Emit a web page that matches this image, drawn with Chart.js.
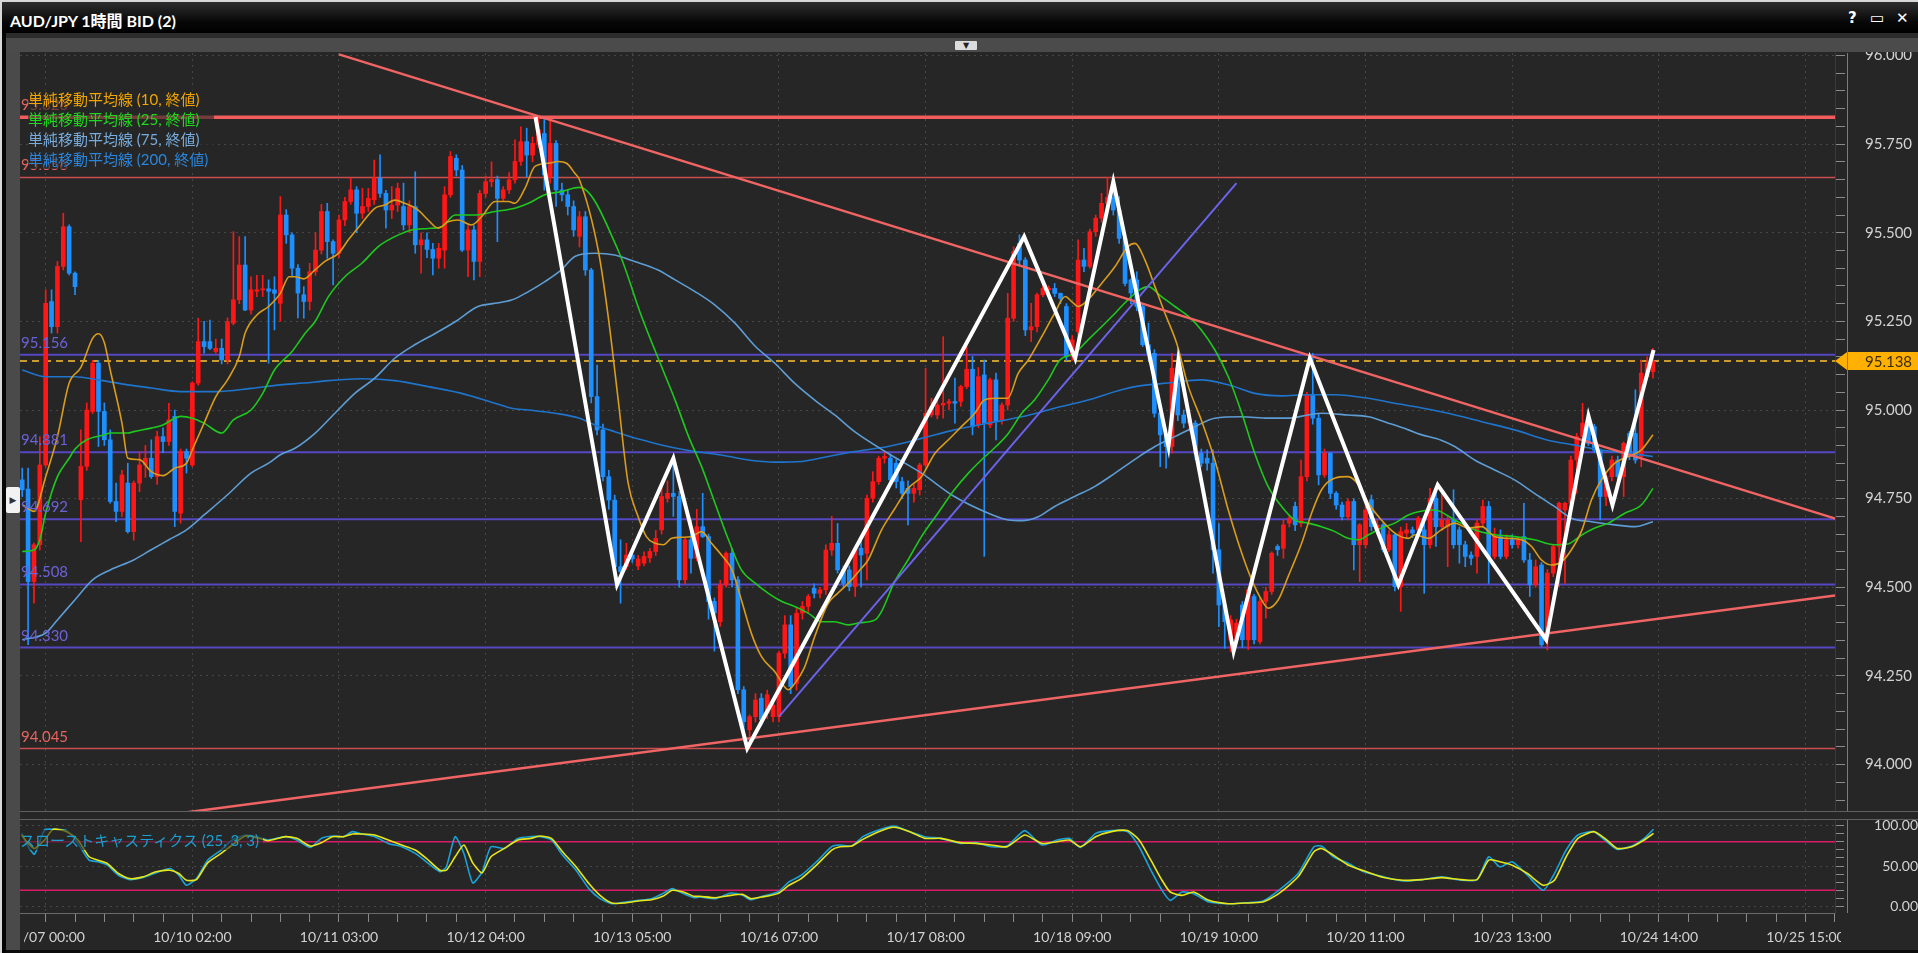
<!DOCTYPE html>
<html lang="ja">
<head>
<meta charset="utf-8">
<title>AUD/JPY 1時間 BID (2)</title>
<script src="https://cdn.jsdelivr.net/npm/chart.js@4.4.1/dist/chart.umd.min.js"></script>
<style>
  html, body { margin: 0; padding: 0; }
  body { width: 1918px; height: 953px; background: #0c0c0c; overflow: hidden; position: relative;
         font-family: Lato, "Noto Sans CJK JP", sans-serif; }
  .abs { position: absolute; z-index: 2; }
  #frame { left: 0; top: 0; width: 1916px; height: 951px; border-left: 2px solid #d8d8d8; border-top: 2px solid #d8d8d8; z-index: 0; }
  #titlebar { left: 2px; top: 2px; width: 1916px; height: 31px; background: linear-gradient(#2e2e2e, #070707 65%, #000); }
  #title { left: 8px; top: 6px; color: #fff; font: bold 16px Lato, "Noto Sans CJK JP", sans-serif; }
  .icon { top: 7px; color: #fff; font: bold 15px "DejaVu Sans", sans-serif; }
  #band { left: 6px; top: 33px; width: 1912px; height: 5px; background: #2c2c2c; }
  #strip { left: 6px; top: 38px; width: 1912px; height: 14px; background: #4b4b4b; }
  #dropbtn { left: 955px; top: 41px; width: 22px; height: 9px; background: #dcdcdc; border-radius: 1px;
             color: #222; font: 8px "DejaVu Sans"; text-align: center; line-height: 9px; }
  #panel { left: 20px; top: 52px; width: 1898px; height: 898px; background: #262626; z-index: 0; }
  #leftedge { left: 2px; top: 33px; width: 4px; height: 920px; background: #050505; }
  #leftbar { left: 6px; top: 52px; width: 14px; height: 898px; background: #4a4a4a; }
  #leftbtn { left: 6px; top: 487px; width: 14px; height: 26px; background: #f2f2f2; border-radius: 2px;
             color: #333; font: 9px "DejaVu Sans"; line-height: 26px; text-align: center; }
  canvas { position: absolute; left: 0; z-index: 1; }
  #mainChart { top: 40px; }
  #stochChart { top: 815px; }
  .sep { left: 20px; width: 1898px; height: 1px; background: #5f5f5f; }
  .vaxis { left: 1847px; width: 1px; background: #7c7c7c; }
  #labelcover { left: 1841px; top: 915px; width: 77px; height: 35px; background: #262626; }
  #leftcover { left: 20px; top: 924px; width: 4px; height: 26px; background: #262626; }
  #legend { left: 28px; top: 89px; padding-right: 6px; background: rgba(38,38,38,0.62);
            font: 15px Lato, "Noto Sans CJK JP", sans-serif; line-height: 20px; white-space: nowrap; }
  #stochLegend { left: 20px; top: 830px; padding-right: 4px; background: rgba(38,38,38,0.6); color: #1d9fd0;
                 font: 15px Lato, "Noto Sans CJK JP", sans-serif; line-height: 20px; }
</style>
</head>
<body>
<div id="frame" class="abs"></div>
<div id="panel" class="abs"></div>
<canvas id="mainChart" width="1918" height="785"></canvas>
<canvas id="stochChart" width="1918" height="138"></canvas>

<div id="titlebar" class="abs">
  <div id="title" class="abs">AUD/JPY 1時間 BID (2)</div>
  <div class="abs icon" style="left:1846px">?</div>
  <div class="abs icon" style="left:1868px">▭</div>
  <div class="abs icon" style="left:1894px">✕</div>
</div>
<div id="band" class="abs"></div>
<div id="strip" class="abs"></div>
<div id="dropbtn" class="abs">▼</div>
<div id="leftedge" class="abs"></div>
<div id="leftbar" class="abs"></div>
<div id="leftbtn" class="abs">▶</div>
<div class="abs sep" style="top:811px"></div>
<div class="abs sep" style="top:819px"></div>
<div class="abs vaxis" style="top:53px;height:758px"></div>
<div class="abs vaxis" style="top:820px;height:93px"></div>
<div id="labelcover" class="abs"></div>
<div id="leftcover" class="abs"></div>
<div id="legend" class="abs">
  <div style="color:#f0a500">単純移動平均線 (10, 終値)</div>
  <div style="color:#1fd81f">単純移動平均線 (25, 終値)</div>
  <div style="color:#78acdc">単純移動平均線 (75, 終値)</div>
  <div style="color:#2a86dc">単純移動平均線 (200, 終値)</div>
</div>
<div id="stochLegend" class="abs">スローストキャスティクス (25, 3, 3)</div>

<script>
// hourly candles, bar index 0 = 10/07 00:00 (weekend hours are skipped)
const firstBar = -4;
const opens = [
  94.803, 94.777, 94.516, 94.620, 94.845, 95.306, 95.235, 95.405, 95.517, 95.386,
  94.747, 94.841, 94.996, 95.132, 94.996, 94.916, 94.742, 94.714, 94.794, 94.657,
  94.794, 94.845, 94.864, 94.812, 94.925, 94.911, 94.982, 94.709, 94.883, 94.845,
  95.076, 95.193, 95.193, 95.165, 95.174, 95.141, 95.245, 95.311, 95.409, 95.282,
  95.335, 95.339, 95.342, 95.339, 95.301, 95.550, 95.494, 95.400, 95.325, 95.306,
  95.390, 95.451, 95.560, 95.475, 95.442, 95.536, 95.588, 95.621, 95.555, 95.574,
  95.593, 95.654, 95.611, 95.564, 95.578, 95.574, 95.522, 95.574, 95.466, 95.480,
  95.453, 95.428, 95.451, 95.607, 95.710, 95.677, 95.451, 95.508, 95.419, 95.611,
  95.644, 95.650, 95.597, 95.621, 95.649, 95.701, 95.757, 95.719, 95.752, 95.780,
  95.658, 95.752, 95.621, 95.607, 95.574, 95.490, 95.545, 95.395, 95.038, 94.944,
  94.812, 94.746, 94.558, 94.558, 94.591, 94.560, 94.568, 94.583, 94.601, 94.662,
  94.751, 94.765, 94.756, 94.521, 94.634, 94.582, 94.671, 94.643, 94.460, 94.403,
  94.507, 94.596, 94.521, 94.211, 94.098, 94.135, 94.187, 94.145, 94.135, 94.135,
  94.314, 94.394, 94.229, 94.427, 94.446, 94.497, 94.483, 94.493, 94.605, 94.624,
  94.549, 94.549, 94.502, 94.610, 94.596, 94.751, 94.798, 94.864, 94.864, 94.850,
  94.798, 94.779, 94.765, 94.775, 94.845, 94.986, 94.986, 95.014, 95.019, 95.024,
  95.024, 95.066, 95.115, 94.958, 95.099, 94.958, 95.085, 94.972, 95.014, 95.259,
  95.470, 95.423, 95.226, 95.235, 95.325, 95.339, 95.343, 95.329, 95.292, 95.151,
  95.221, 95.423, 95.405, 95.503, 95.541, 95.583, 95.600, 95.564, 95.484, 95.367,
  95.367, 95.292, 95.184, 95.160, 94.991, 94.930, 94.897, 95.118, 94.986, 94.963,
  94.963, 94.878, 94.864, 94.850, 94.606, 94.450, 94.352, 94.352, 94.450, 94.352,
  94.474, 94.347, 94.460, 94.488, 94.615, 94.610, 94.681, 94.728, 94.681, 94.812,
  95.043, 94.977, 94.817, 94.878, 94.765, 94.732, 94.699, 94.742, 94.620, 94.620,
  94.747, 94.662, 94.676, 94.606, 94.648, 94.502, 94.653, 94.662, 94.662, 94.662,
  94.620, 94.751, 94.671, 94.671, 94.690, 94.662, 94.620, 94.591, 94.587, 94.681,
  94.728, 94.587, 94.643, 94.587, 94.634, 94.620, 94.643, 94.577, 94.507, 94.563,
  94.361, 94.540, 94.615, 94.718, 94.737, 94.859, 94.925, 94.963, 94.953, 94.887,
  94.756, 94.812, 94.859, 94.812, 94.934, 94.934, 94.869, 95.094, 95.108
];
const highs = [
  94.836, 94.836, 94.625, 94.925, 95.339, 95.339, 95.419, 95.555, 95.522, 95.390,
  94.944, 95.020, 95.140, 95.140, 95.020, 94.944, 94.794, 94.830, 94.850, 94.800,
  94.883, 94.900, 94.916, 94.940, 94.950, 95.019, 95.000, 94.890, 94.890, 95.080,
  95.259, 95.250, 95.254, 95.200, 95.200, 95.260, 95.503, 95.489, 95.489, 95.376,
  95.380, 95.380, 95.367, 95.376, 95.602, 95.565, 95.500, 95.410, 95.348, 95.414,
  95.500, 95.580, 95.583, 95.480, 95.550, 95.600, 95.654, 95.630, 95.625, 95.625,
  95.705, 95.720, 95.620, 95.630, 95.640, 95.640, 95.590, 95.672, 95.500, 95.500,
  95.470, 95.470, 95.630, 95.729, 95.720, 95.690, 95.520, 95.520, 95.620, 95.660,
  95.700, 95.660, 95.630, 95.670, 95.762, 95.799, 95.795, 95.770, 95.826, 95.820,
  95.818, 95.760, 95.640, 95.620, 95.590, 95.560, 95.560, 95.400, 95.127, 94.960,
  94.830, 94.760, 94.634, 94.624, 94.600, 94.590, 94.600, 94.610, 94.660, 94.780,
  94.800, 94.870, 94.770, 94.640, 94.690, 94.720, 94.765, 94.650, 94.470, 94.520,
  94.600, 94.610, 94.530, 94.220, 94.140, 94.200, 94.200, 94.210, 94.180, 94.320,
  94.420, 94.420, 94.440, 94.460, 94.480, 94.510, 94.500, 94.620, 94.700, 94.680,
  94.560, 94.560, 94.610, 94.643, 94.760, 94.826, 94.870, 94.880, 94.875, 94.860,
  94.810, 94.800, 94.790, 94.850, 95.118, 95.033, 95.030, 95.207, 95.030, 95.090,
  95.070, 95.179, 95.151, 95.120, 95.141, 95.090, 95.104, 95.020, 95.329, 95.460,
  95.494, 95.430, 95.301, 95.330, 95.350, 95.350, 95.357, 95.330, 95.300, 95.210,
  95.480, 95.456, 95.510, 95.550, 95.611, 95.656, 95.649, 95.602, 95.490, 95.370,
  95.390, 95.300, 95.245, 95.170, 95.000, 94.940, 95.160, 95.151, 95.000, 94.990,
  94.970, 94.890, 94.888, 94.888, 94.680, 94.460, 94.420, 94.410, 94.460, 94.500,
  94.480, 94.470, 94.500, 94.600, 94.620, 94.690, 94.700, 94.740, 94.859, 95.050,
  95.160, 94.990, 94.890, 94.880, 94.770, 94.740, 94.750, 94.750, 94.680, 94.730,
  94.760, 94.690, 94.680, 94.660, 94.650, 94.670, 94.680, 94.670, 94.700, 94.681,
  94.779, 94.784, 94.775, 94.700, 94.775, 94.670, 94.630, 94.600, 94.690, 94.746,
  94.742, 94.667, 94.662, 94.648, 94.648, 94.640, 94.737, 94.596, 94.577, 94.570,
  94.550, 94.620, 94.740, 94.740, 94.870, 94.934, 95.019, 94.980, 94.960, 94.890,
  94.820, 94.870, 94.870, 94.910, 94.940, 95.057, 95.141, 95.150, 95.174
];
const lows = [
  94.756, 94.338, 94.455, 94.605, 94.840, 95.217, 95.217, 95.395, 95.381, 95.325,
  94.629, 94.830, 94.990, 94.897, 94.900, 94.737, 94.685, 94.700, 94.653, 94.633,
  94.770, 94.810, 94.807, 94.790, 94.880, 94.900, 94.671, 94.681, 94.822, 94.840,
  95.070, 95.160, 95.170, 95.160, 95.130, 95.130, 95.240, 95.300, 95.280, 95.270,
  95.320, 95.320, 95.132, 95.226, 95.250, 95.470, 95.376, 95.260, 95.259, 95.282,
  95.380, 95.440, 95.428, 95.353, 95.430, 95.520, 95.580, 95.500, 95.540, 95.560,
  95.580, 95.600, 95.513, 95.540, 95.560, 95.508, 95.500, 95.442, 95.386, 95.430,
  95.381, 95.400, 95.400, 95.600, 95.660, 95.447, 95.376, 95.367, 95.376, 95.600,
  95.630, 95.475, 95.590, 95.610, 95.640, 95.690, 95.658, 95.700, 95.740, 95.620,
  95.640, 95.574, 95.590, 95.550, 95.490, 95.460, 95.380, 95.020, 94.930, 94.800,
  94.720, 94.540, 94.455, 94.550, 94.570, 94.550, 94.560, 94.570, 94.590, 94.650,
  94.740, 94.700, 94.500, 94.510, 94.540, 94.575, 94.640, 94.410, 94.320, 94.390,
  94.500, 94.500, 94.200, 94.080, 94.045, 94.120, 94.110, 94.130, 94.120, 94.120,
  94.300, 94.200, 94.210, 94.410, 94.430, 94.470, 94.470, 94.480, 94.590, 94.540,
  94.500, 94.490, 94.474, 94.502, 94.521, 94.740, 94.790, 94.850, 94.790, 94.780,
  94.750, 94.676, 94.740, 94.760, 94.840, 94.980, 94.975, 94.977, 95.000, 94.963,
  95.010, 95.060, 94.930, 94.950, 94.587, 94.950, 94.916, 94.960, 95.000, 95.250,
  95.410, 95.210, 95.193, 95.220, 95.320, 95.330, 95.320, 95.300, 95.140, 95.140,
  95.200, 95.390, 95.400, 95.490, 95.530, 95.570, 95.550, 95.470, 95.350, 95.300,
  95.280, 95.179, 95.140, 94.980, 94.840, 94.836, 94.878, 94.970, 94.950, 94.940,
  94.860, 94.840, 94.830, 94.540, 94.389, 94.328, 94.319, 94.340, 94.330, 94.324,
  94.340, 94.340, 94.413, 94.480, 94.590, 94.582, 94.670, 94.660, 94.670, 94.800,
  94.960, 94.789, 94.810, 94.750, 94.720, 94.690, 94.690, 94.549, 94.516, 94.610,
  94.660, 94.650, 94.600, 94.600, 94.490, 94.432, 94.640, 94.640, 94.650, 94.483,
  94.610, 94.615, 94.660, 94.558, 94.610, 94.568, 94.558, 94.563, 94.540, 94.670,
  94.511, 94.580, 94.580, 94.580, 94.610, 94.610, 94.570, 94.474, 94.500, 94.333,
  94.323, 94.530, 94.502, 94.511, 94.730, 94.765, 94.920, 94.900, 94.880, 94.690,
  94.730, 94.800, 94.800, 94.756, 94.860, 94.850, 94.840, 95.090, 95.090
];
const closes = [
  94.775, 94.516, 94.620, 94.845, 95.301, 95.235, 95.405, 95.517, 95.386, 95.348,
  94.841, 95.000, 95.132, 94.996, 94.916, 94.742, 94.714, 94.817, 94.657, 94.794,
  94.845, 94.864, 94.812, 94.925, 94.911, 94.972, 94.714, 94.883, 94.864, 95.076,
  95.193, 95.179, 95.174, 95.174, 95.141, 95.249, 95.311, 95.409, 95.282, 95.339,
  95.339, 95.342, 95.335, 95.329, 95.550, 95.494, 95.400, 95.330, 95.306, 95.390,
  95.451, 95.560, 95.475, 95.442, 95.536, 95.588, 95.621, 95.555, 95.574, 95.597,
  95.654, 95.611, 95.564, 95.578, 95.625, 95.522, 95.574, 95.466, 95.480, 95.453,
  95.428, 95.456, 95.607, 95.715, 95.677, 95.451, 95.508, 95.419, 95.611, 95.644,
  95.650, 95.597, 95.621, 95.649, 95.701, 95.757, 95.719, 95.752, 95.790, 95.663,
  95.752, 95.621, 95.607, 95.574, 95.508, 95.545, 95.395, 95.038, 94.944, 94.812,
  94.746, 94.558, 94.544, 94.591, 94.580, 94.580, 94.587, 94.601, 94.638, 94.756,
  94.765, 94.756, 94.521, 94.634, 94.582, 94.671, 94.643, 94.460, 94.427, 94.507,
  94.596, 94.521, 94.211, 94.121, 94.135, 94.182, 94.126, 94.197, 94.168, 94.314,
  94.394, 94.220, 94.427, 94.446, 94.474, 94.483, 94.493, 94.605, 94.624, 94.549,
  94.511, 94.502, 94.606, 94.591, 94.751, 94.798, 94.864, 94.869, 94.803, 94.798,
  94.765, 94.765, 94.779, 94.845, 94.991, 95.010, 95.014, 95.019, 95.024, 95.019,
  95.066, 95.115, 94.953, 95.094, 94.963, 95.085, 94.967, 95.014, 95.259, 95.447,
  95.423, 95.226, 95.235, 95.325, 95.343, 95.343, 95.329, 95.315, 95.151, 95.198,
  95.423, 95.405, 95.503, 95.541, 95.583, 95.600, 95.564, 95.484, 95.357, 95.330,
  95.292, 95.184, 95.160, 94.991, 94.930, 94.897, 95.118, 94.986, 94.963, 94.972,
  94.878, 94.850, 94.850, 94.606, 94.450, 94.403, 94.408, 94.399, 94.352, 94.493,
  94.352, 94.460, 94.488, 94.596, 94.606, 94.676, 94.695, 94.676, 94.812, 95.043,
  94.977, 94.817, 94.878, 94.765, 94.732, 94.699, 94.742, 94.620, 94.676, 94.718,
  94.671, 94.676, 94.606, 94.648, 94.502, 94.657, 94.662, 94.653, 94.695, 94.620,
  94.751, 94.671, 94.690, 94.690, 94.620, 94.620, 94.587, 94.582, 94.681, 94.728,
  94.587, 94.643, 94.587, 94.634, 94.620, 94.634, 94.577, 94.507, 94.558, 94.338,
  94.540, 94.615, 94.737, 94.737, 94.859, 94.925, 94.963, 94.906, 94.887, 94.756,
  94.812, 94.859, 94.812, 94.906, 94.869, 94.859, 95.104, 95.132, 95.138
];

// time axis
const timeTickBars = [0, 25, 50, 75, 100, 125, 150, 175, 200, 225, 250, 275, 300];
const timeLabels = ['10/07 00:00', '10/10 02:00', '10/11 03:00', '10/12 04:00', '10/13 05:00',
  '10/16 07:00', '10/17 08:00', '10/18 09:00', '10/19 10:00', '10/20 11:00', '10/23 13:00',
  '10/24 14:00', '10/25 15:00'];
const priceLabels = ['94.000', '94.250', '94.500', '94.750', '95.000', '95.250', '95.500', '95.750', '96.000'];
const stochLabels = ['0.00', '50.00', '100.00'];

// moving averages [bar, price]
const ma10 = [[-4,94.733],[-2,94.714],[0,94.812],[2,94.925],[4,95.076],[6,95.12],[8,95.202],[9,95.215],[10,95.19],[11,95.113],
  [13,94.963],[14,94.864],[16,94.86],[18,94.826],[20,94.815],[22,94.836],[24,94.85],[25,94.888],[27,94.963],[29,95.038],
  [31,95.085],[33,95.151],[34,95.217],[36,95.268],[38,95.292],[40,95.329],[41.5,95.376],[42.5,95.376],[44,95.37],[45.9,95.395],
  [47.6,95.419],[49.9,95.442],[51.6,95.48],[53.9,95.527],[56.1,95.569],[57.8,95.578],[59.5,95.592],[61.2,95.583],[63.5,95.564],[65.2,95.536],
  [66.9,95.513],[68.6,95.531],[70.3,95.536],[72.6,95.522],[74.3,95.545],[76.6,95.588],[78.9,95.588],[80,95.583],[81.7,95.625],[83.4,95.687],
  [85.7,95.696],[87.4,95.701],[88.8,95.696],[90.2,95.668],[91,95.649],[94.2,95.45],[95.9,95.263],[97.6,95.028],[99.3,94.793],[101,94.699],
  [102.4,94.643],[103.9,94.624],[105.3,94.62],[106.7,94.638],[108.4,94.641],[110.1,94.643],[111.8,94.657],[113.5,94.624],[115.2,94.591],[117,94.549],
  [118.6,94.464],[120.3,94.37],[122,94.305],[124.3,94.262],[126.6,94.211],[127.7,94.229],[129.4,94.276],[131.1,94.361],[133.4,94.455],[135,94.483],
  [136.8,94.511],[138.8,94.549],[140.2,94.577],[142.5,94.662],[144.6,94.718],[147,94.779],[149.3,94.812],[151.6,94.878],[153.9,94.916],[156.1,94.953],
  [158.4,94.991],[160.1,95.029],[162.4,95.033],[164,95.033],[165.8,95.104],[167.5,95.141],[169.8,95.207],[172,95.273],[173.8,95.32],[174.9,95.306],
  [176,95.292],[177.7,95.311],[180,95.357],[182.3,95.405],[184.5,95.461],[185.7,95.47],[187.4,95.423],[189.1,95.348],[190.8,95.273],[192.8,95.188],
  [194.8,95.066],[197,94.972],[199.3,94.859],[201.6,94.718],[203.9,94.596],[205.6,94.521],[207.3,94.464],[208.4,94.441],[210.1,94.464],[211.8,94.53],
  [214.1,94.624],[215.8,94.709],[217.5,94.775],[219.8,94.808],[222,94.812],[223.8,94.789],[225.5,94.737],[227.7,94.69],[230,94.653],[232.3,94.638],
  [233.4,94.648],[235.7,94.638],[237.9,94.662],[240.2,94.681],[242.5,94.667],[244.8,94.671],[247,94.643],[249.3,94.638],[251.6,94.634],[253.3,94.615],
  [255,94.577],[256.7,94.563],[258.4,94.572],[260.1,94.606],[261.9,94.662],[263.5,94.746],[265.2,94.803],[267.5,94.85],[269.8,94.869],[272,94.887],[274,94.93]];
const ma25 = [[-4,94.601],[-2,94.605],[-1,94.634],[0,94.709],[2,94.812],[4,94.864],[5,94.89],[7,94.916],[10,94.93],[11,94.935],
  [14,94.935],[15,94.939],[18,94.949],[20,94.958],[22,94.977],[23,94.982],[25,94.977],[27,94.963],[30,94.935],[32,94.972],
  [35,95.0],[37,95.047],[39,95.113],[42,95.165],[44.2,95.216],[45.9,95.249],[48.2,95.32],[51,95.376],[53.9,95.414],[56.7,95.461],
  [59.5,95.489],[62.4,95.508],[65.2,95.512],[67.5,95.517],[69.8,95.55],[73.2,95.55],[76.6,95.56],[80,95.569],[82.3,95.583],[85.1,95.607],
  [87.9,95.616],[91,95.628],[97.6,95.45],[101.6,95.263],[105,95.122],[107.3,95.028],[109.6,94.925],[111.8,94.841],[114.1,94.737],[116.4,94.634],
  [118.6,94.549],[121,94.511],[123.2,94.483],[125.5,94.46],[127.7,94.446],[130,94.427],[132.3,94.403],[134.5,94.403],[136.8,94.394],[138.8,94.4],
  [141.4,94.408],[142.5,94.432],[144.6,94.512],[147,94.577],[149.3,94.643],[152.1,94.709],[154.9,94.775],[157.3,94.822],[159.5,94.859],[162,94.897],
  [164.1,94.934],[166.4,94.991],[168.6,95.029],[170.9,95.085],[172.9,95.141],[175.4,95.16],[177.7,95.198],[180,95.235],[182.3,95.273],[184.5,95.311],
  [186.5,95.339],[188,95.348],[190.2,95.32],[192.5,95.292],[194.8,95.264],[197,95.226],[199.3,95.17],[201.6,95.094],[203.9,94.991],[206.1,94.878],
  [208.4,94.784],[210.7,94.728],[212.9,94.69],[215.2,94.681],[217.5,94.671],[219.8,94.657],[222,94.638],[223.8,94.634],[225.5,94.648],[227.7,94.667],
  [230,94.681],[232.3,94.704],[234.2,94.714],[236.8,94.718],[240.2,94.69],[243.6,94.662],[247,94.648],[250.4,94.643],[253.8,94.634],[257.2,94.62],
  [259.5,94.622],[261.9,94.648],[264.1,94.667],[266.4,94.681],[269.2,94.709],[272,94.732],[274,94.779]];
const ma75 = [[-4,94.352],[0,94.371],[2,94.408],[5,94.465],[8,94.521],[11,94.549],[15,94.577],[18,94.606],[21,94.634],[24,94.662],
  [27,94.704],[31,94.761],[35,94.822],[38,94.85],[40,94.874],[42.5,94.892],[45.9,94.934],[49.3,94.991],[52.7,95.047],[56.1,95.09],
  [59.5,95.146],[62.9,95.184],[66.4,95.216],[69.8,95.249],[73.7,95.292],[76.6,95.301],[79.4,95.31],[82.3,95.334],[85.1,95.362],[87.9,95.395],
  [90.2,95.433],[93.6,95.442],[97,95.437],[100.4,95.419],[104.4,95.395],[107.3,95.367],[110.7,95.334],[114.1,95.296],[117.5,95.245],[121,95.179],
  [124.3,95.132],[127.7,95.075],[131.1,95.028],[134.5,94.986],[137.9,94.939],[143.6,94.878],[149.3,94.822],[154.9,94.756],[160.7,94.709],[164.1,94.69],
  [166.4,94.688],[169.2,94.699],[172,94.728],[175.4,94.756],[178.8,94.784],[182.3,94.822],[186.5,94.87],[189.1,94.897],[192.5,94.925],[195.9,94.953],
  [199.3,94.977],[203.9,94.981],[208.4,94.977],[211.8,94.977],[215.2,94.986],[217.5,94.991],[222,94.986],[225.5,94.981],[228.9,94.963],[232.3,94.944],
  [234.2,94.932],[237.9,94.915],[240.2,94.897],[243.6,94.859],[247,94.831],[250.4,94.803],[253.8,94.765],[257.2,94.728],[260.1,94.695],[263.5,94.685],
  [267.5,94.676],[270.9,94.671],[274,94.685]];
const ma200 = [[-4,95.113],[0,95.094],[5,95.094],[9,95.085],[14,95.071],[18,95.062],[23,95.052],[29,95.052],[35,95.061],[40,95.071],
  [44,95.076],[48.2,95.083],[53.9,95.088],[59.5,95.083],[65.2,95.066],[70.9,95.047],[76.6,95.019],[79.4,95.005],[82.3,95.0],[86.8,94.991],
  [91,94.977],[93.6,94.958],[97,94.939],[101.6,94.916],[106.1,94.897],[110.7,94.883],[115.2,94.873],[119.8,94.859],[124.3,94.853],[128.9,94.855],
  [133.4,94.869],[137.9,94.883],[143.6,94.897],[149.3,94.92],[154.9,94.944],[160.7,94.963],[166.4,94.981],[172,95.005],[177.7,95.028],[183.4,95.057],
  [186.5,95.068],[191.4,95.076],[197,95.085],[201.6,95.071],[206.1,95.047],[210.7,95.04],[215.2,95.043],[219.8,95.043],[225.5,95.033],[230,95.019],
  [234.2,95.007],[239.1,94.991],[244.8,94.967],[250.4,94.944],[256.1,94.915],[260.7,94.901],[265.2,94.887],[269.8,94.878],[274,94.869]];

// slow stochastics (25, 3, 3): %K and %D, [bar, value]
const stochK = [[-4.1,90.3],[-3,73.8],[-1.9,64.7],[-0.2,94.5],[1.3,95.3],[3.6,93.7],[5.5,77.9],[7.4,57.2],[8.9,55.2],[10.5,51.0],
  [12.4,38.6],[14.3,33.2],[16.6,35.7],[18.8,41.5],[21.2,46.9],[22.7,38.6],[24,26.2],[25.7,34.5],[27.6,57.2],[29.9,69.7],
  [31.8,82.1],[34,88],[36,86],[37.9,82.1],[40.9,86.2],[42.8,82.1],[45.1,73.0],[47,84.1],[48.9,87.0],[50.8,86.2],
  [52.3,92.4],[53.9,89.5],[56.1,86.2],[58.4,77.9],[60.7,73.8],[63,65.5],[64.9,55.2],[67.2,42.8],[68.3,49.0],[69.8,86.2],
  [71.3,65.5],[72.8,29.1],[74.4,42.8],[75.9,73.8],[78.2,71.7],[80.5,84.1],[82.7,86.2],[84.3,86.2],[86.2,82.1],[88.1,63.5],
  [90.4,44.8],[92.6,22.1],[94.5,9.7],[96.5,3.4],[98.8,5.5],[101,7.6],[103.3,9.7],[105.2,15.9],[106.8,22.1],[108.7,15.9],
  [110.5,10.9],[111.5,11.7],[114.2,9.7],[116.8,16.7],[118.8,13.8],[120.2,8.4],[122.1,12.6],[124.8,17.9],[126.7,30.3],[128.8,38.6],
  [131.4,55.2],[134,73.8],[135.4,75.9],[137.4,74.6],[139.3,86.2],[142,94.5],[144.6,99.4],[147.3,92.4],[149.9,86.2],[152.6,84.1],
  [155.9,77.9],[158.6,78.8],[161.2,73.8],[163.9,74.6],[166.9,93.7],[169.8,75.9],[172.4,82.1],[174.5,84.1],[176.4,73.0],[179,90.3],
  [181.7,93.7],[184.4,92.4],[186.4,73.8],[188.4,44.8],[190.3,20.0],[191.7,7.6],[193.7,17.9],[195.7,15.9],[198.3,5.5],[201.6,3.4],
  [204.3,4.3],[207.5,6.8],[210.2,20.0],[213.5,40.7],[216.2,73.8],[217.5,74.6],[219.5,61.4],[222.1,53.1],[224.7,42.8],[228.1,36.6],
  [231.4,31.6],[234.7,33.2],[238,36.6],[241.3,32.4],[244,33.2],[246,61.4],[247.9,49.0],[250,55.2],[252.6,38.6],[255.3,20.0],
  [257.2,40.7],[259.2,69.7],[261.2,88.3],[263.9,92.4],[265.8,82.1],[267.9,70.5],[270.4,74.6],[272.5,84.1],[274.1,95.3]];
const stochD = [[-4.1,88.3],[-3,77.9],[-1.9,71.7],[-0.2,82.1],[1.3,95.3],[3.6,92.4],[5.5,82.1],[7.4,61.4],[8.9,57.2],[10.5,53.1],
  [12.4,40.7],[14.3,34.5],[16.6,36.6],[18.8,42.8],[21.2,44.8],[22.7,40.7],[24,32.4],[25.7,33.2],[27.6,53.9],[29.9,65.5],
  [31.8,75.9],[34,87],[36,85],[37.9,81.2],[40.9,86.2],[42.8,84.1],[45.1,74.6],[47,78.8],[48.9,86.2],[50.8,86.2],
  [52.3,89.5],[53.9,89.5],[56.1,88.3],[58.4,82.1],[60.7,75.9],[63,69.7],[64.9,59.3],[67.2,44.8],[68.3,44.8],[69.8,61.4],
  [71.3,75.9],[72.8,53.9],[74.4,41.5],[75.9,61.4],[78.2,71.7],[80.5,82.1],[82.7,84.1],[84.3,87.0],[86.2,84.1],[88.1,67.6],
  [90.4,49.0],[92.6,28.3],[94.5,13.8],[96.5,4.3],[98.8,4.3],[101,6.8],[103.3,8.4],[105.2,12.6],[106.8,20.0],[108.7,17.9],
  [110.5,12.6],[111.5,12.6],[114.2,10.9],[116.8,13.8],[118.8,15.0],[120.2,9.7],[122.1,11.7],[124.8,15.9],[126.7,26.2],[128.8,34.5],
  [131.4,51.0],[134,69.7],[135.4,73.8],[137.4,74.6],[139.3,82.9],[142,92.4],[144.6,97.8],[147.3,92.4],[149.9,84.1],[152.6,84.1],
  [155.9,78.8],[158.6,77.9],[161.2,75.9],[163.9,73.8],[166.9,88.3],[169.8,77.9],[172.4,80.0],[174.5,82.1],[176.4,73.8],[179,86.2],
  [181.7,92.4],[184.4,93.7],[186.4,82.1],[188.4,57.2],[190.3,32.4],[191.7,17.9],[193.7,13.8],[195.7,17.9],[198.3,7.6],[201.6,3.4],
  [204.3,4.3],[207.5,5.5],[210.2,15.9],[213.5,36.6],[216.2,67.6],[217.5,71.7],[219.5,63.5],[222.1,51.0],[224.7,44.0],[228.1,35.7],
  [231.4,32.4],[234.7,33.2],[238,35.7],[241.3,33.2],[244,33.2],[246,57.2],[247.9,55.2],[250,51.0],[252.6,40.7],[255.3,26.2],
  [257.2,32.4],[259.2,61.4],[261.2,84.1],[263.9,92.4],[265.8,84.1],[267.9,71.7],[270.4,73.8],[272.5,82.1],[274.1,90.3]];
const stochBands = [20, 80];

// drawings: swing zigzag, trend lines and price levels
const zigzag = [[83.5,95.826],[97.4,94.507],[107.0,94.864],[119.6,94.046],[166.8,95.489],[175.5,95.146],[182.0,95.644],
  [191.4,94.897],[193.1,95.141],[202.5,94.319],[215.5,95.146],[230.6,94.507],[237.3,94.789],[255.8,94.352],
  [263.0,94.983],[267.1,94.732],[274.1,95.169]];
const trendDown = [[50, 96.003], [306, 94.689]];
const trendUp = [[23, 93.863], [306, 94.479]];
const trendChannel = [[125, 94.135], [203, 95.64]];
const redLevels = [95.826, 95.656, 94.045];
const purpleLevels = [95.156, 94.881, 94.692, 94.508, 94.330];
const lastPrice = closes[closes.length - 1];

// view
const X_MIN = -4.38, X_MAX = 305.03;
const P_MIN = 93.869, P_MAX = 96.007;
const S_MIN = -8, S_MAX = 108;
const UP = '#ff1616', DOWN = '#1e8fff';
const AXIS_FONT = {family: 'Lato', size: 15};
const TEXT = '#d2d2d2';

Chart.defaults.font.family = 'Lato';

const pts = arr => arr.map(([x, y]) => ({x, y}));
const hline = v => [{x: X_MIN, y: v}, {x: X_MAX, y: v}];
const line = (data, color, width, order, extra) => Object.assign({
  type: 'line', data, borderColor: color, borderWidth: width, pointRadius: 0, fill: false, order
}, extra || {});

const candleColors = closes.map((c, k) => c >= opens[k] ? UP : DOWN);
const bodies = closes.map((c, k) => ({x: firstBar + k, y: [opens[k], c]}));
const wicks = closes.map((c, k) => ({x: firstBar + k, y: [lows[k], highs[k]]}));

const priceTicks = [];
for (let k = 0; 93.9 + k * 0.05 <= 96.0001; k++) priceTicks.push(Math.round((93.9 + k * 0.05) * 1000) / 1000);
const isMajorPrice = v => Math.abs(v * 4 - Math.round(v * 4)) < 1e-6;
const minorTimeTicks = [];
for (let b = 0; b <= 305; b += 5) minorTimeTicks.push(b);
const stochTicks = [0, 10, 20, 30, 40, 50, 60, 70, 80, 90, 100];

const levelLabels = {
  id: 'levelLabels',
  afterDatasetsDraw(chart) {
    const {ctx, chartArea, scales: {y}} = chart;
    ctx.save();
    ctx.font = '15px Lato';
    ctx.textBaseline = 'alphabetic';
    const put = (v, color) => {
      ctx.fillStyle = color;
      ctx.fillText(v.toFixed(3), chartArea.left + 1, y.getPixelForValue(v) - 7);
    };
    redLevels.forEach(v => put(v, '#e8645c'));
    purpleLevels.forEach(v => put(v, '#6c62d8'));
    ctx.restore();
  }
};

const priceTag = {
  id: 'priceTag',
  afterDraw(chart) {
    const {ctx, chartArea, scales: {y}} = chart;
    const py = y.getPixelForValue(lastPrice);
    const x0 = chartArea.right;
    ctx.save();
    ctx.fillStyle = '#ffb000';
    ctx.beginPath();
    ctx.moveTo(x0, py);
    ctx.lineTo(x0 + 12, py - 9);
    ctx.lineTo(chart.width, py - 9);
    ctx.lineTo(chart.width, py + 9);
    ctx.lineTo(x0 + 12, py + 9);
    ctx.closePath();
    ctx.fill();
    ctx.fillStyle = '#3a2c00';
    ctx.font = '15px Lato';
    ctx.textBaseline = 'middle';
    ctx.fillText(lastPrice.toFixed(3), x0 + 30, py + 1);
    ctx.restore();
  }
};

const mainDatasets = [];
redLevels.forEach((v, k) => mainDatasets.push(line(hline(v), k === 0 ? '#f25c5c' : '#c94e4e', k === 0 ? 3.5 : 1.5, 20)));
purpleLevels.forEach(v => mainDatasets.push(line(hline(v), '#5548c2', 2, 20)));
mainDatasets.push(line(hline(lastPrice), '#c99a2e', 2, 19, {borderDash: [7, 5]}));
mainDatasets.push({type: 'bar', data: wicks, backgroundColor: candleColors, barThickness: 1,
  grouped: false, borderWidth: 0, order: 12});
mainDatasets.push({type: 'bar', data: bodies, backgroundColor: candleColors, barThickness: 4,
  grouped: false, borderWidth: 0, borderSkipped: false, minBarLength: 1, order: 11});
mainDatasets.push(line(pts(ma200), '#1f74cc', 1.6, 8, {cubicInterpolationMode: 'monotone'}));
mainDatasets.push(line(pts(ma75), '#5e9dd4', 1.6, 7, {cubicInterpolationMode: 'monotone'}));
mainDatasets.push(line(pts(ma25), '#1ec81e', 1.6, 6, {cubicInterpolationMode: 'monotone'}));
mainDatasets.push(line(pts(ma10), '#d99c1c', 1.6, 5, {cubicInterpolationMode: 'monotone'}));
mainDatasets.push(line(pts(trendDown), '#f06464', 2.5, 3));
mainDatasets.push(line(pts(trendUp), '#f06464', 2.5, 3));
mainDatasets.push(line(pts(trendChannel), '#6b63ea', 2, 3));
mainDatasets.push(line(pts(zigzag), '#ffffff', 4, 1, {borderJoinStyle: 'miter'}));

new Chart(document.getElementById('mainChart'), {
  type: 'bar',
  data: {datasets: mainDatasets},
  options: {
    responsive: false,
    animation: false,
    events: [],
    layout: {padding: {left: 20, top: 13, right: 0, bottom: 14}},
    plugins: {legend: {display: false}, tooltip: {enabled: false}},
    scales: {
      x: {
        type: 'linear', min: X_MIN, max: X_MAX, offset: false,
        afterBuildTicks: s => { s.ticks = timeTickBars.map(v => ({value: v})); },
        afterFit: s => { s.height = 0; s.paddingLeft = 0; s.paddingRight = 0; },
        ticks: {display: false},
        grid: {color: '#474747', drawTicks: false, offset: false},
        border: {display: false, dash: [2, 4]}
      },
      y: {
        type: 'linear', position: 'right', min: P_MIN, max: P_MAX, beginAtZero: false,
        afterBuildTicks: s => { s.ticks = priceTicks.map(v => ({value: v})); },
        afterFit: s => { s.width = 83; s.paddingTop = 0; s.paddingBottom = 0; },
        ticks: {
          autoSkip: false, padding: 20, color: TEXT, font: AXIS_FONT,
          callback: v => { const t = v.toFixed(3); return priceLabels.includes(t) ? t : ''; }
        },
        grid: {
          color: c => (c.tick && isMajorPrice(c.tick.value)) ? '#474747' : 'transparent',
          tickColor: '#8a8a8a', tickLength: 10
        },
        border: {display: true, color: '#3a3a3a', dash: [2, 4]}
      }
    }
  },
  plugins: [levelLabels, priceTag]
});

new Chart(document.getElementById('stochChart'), {
  type: 'line',
  data: {
    datasets: [
      ...stochBands.map(v => line(hline(v), '#d81b66', 1.6, 5)),
      line(pts(stochK), '#1aa3d8', 1.6, 2, {tension: 0.2}),
      line(pts(stochD), '#e6e61a', 1.6, 1, {tension: 0.2})
    ]
  },
  options: {
    responsive: false,
    animation: false,
    events: [],
    layout: {padding: {left: 20, top: 4, right: 0, bottom: 0}},
    plugins: {legend: {display: false}, tooltip: {enabled: false}},
    scales: {
      x: {
        type: 'linear', min: X_MIN, max: X_MAX, offset: false,
        afterBuildTicks: s => { s.ticks = minorTimeTicks.map(v => ({value: v})); },
        afterFit: s => { s.height = 40; s.paddingLeft = 0; s.paddingRight = 0; },
        ticks: {
          autoSkip: false, maxRotation: 0, minRotation: 0, padding: 7, color: TEXT,
          font: {family: 'Lato', size: 14},
          callback: v => { const k = timeTickBars.indexOf(v); return k >= 0 ? timeLabels[k] : ''; }
        },
        grid: {
          color: c => (c.tick && timeTickBars.includes(c.tick.value)) ? '#474747' : 'transparent',
          tickColor: '#8a8a8a', tickLength: 9
        },
        border: {display: true, color: '#6a6a6a', dash: [2, 4]}
      },
      y: {
        type: 'linear', position: 'right', min: S_MIN, max: S_MAX,
        afterBuildTicks: s => { s.ticks = stochTicks.map(v => ({value: v})); },
        afterFit: s => { s.width = 83; s.paddingTop = 0; s.paddingBottom = 0; },
        ticks: {
          autoSkip: false, crossAlign: 'far', padding: 22, color: TEXT, font: {family: 'Lato', size: 14},
          callback: v => { const t = v.toFixed(2); return stochLabels.includes(t) ? t : ''; }
        },
        grid: {
          color: c => (c.tick && stochLabels.includes(c.tick.value.toFixed(2))) ? '#474747' : 'transparent',
          tickColor: '#8a8a8a', tickLength: 9
        },
        border: {display: true, color: '#3a3a3a', dash: [2, 4]}
      }
    }
  }
});
</script>
</body>
</html>
